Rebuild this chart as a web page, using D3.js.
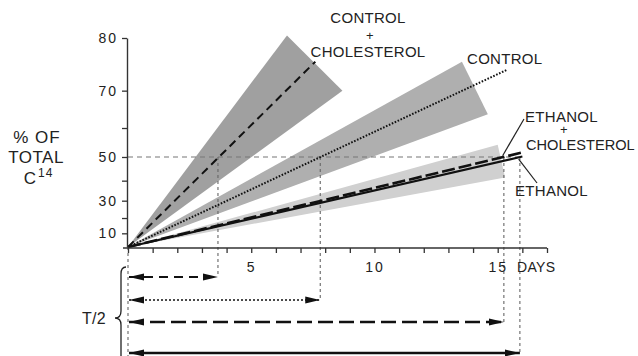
<!DOCTYPE html>
<html>
<head>
<meta charset="utf-8">
<script src="https://cdn.jsdelivr.net/npm/d3@7"></script>
<style>
  body { margin: 0; background: #fff; }
  svg { display: block; font-family: "Liberation Sans", Arial, sans-serif; }
</style>
</head>
<body>
<svg id="chart" width="638" height="356"></svg>
<script>
// DATA
const seriesNames = ["CONTROL + CHOLESTEROL", "CONTROL", "ETHANOL + CHOLESTEROL", "ETHANOL"];
const halfTimes = [3.65, 7.8, 15.25, 15.9];            // days to reach 50 %
const lineStarts = [[0, 0], [0, 0], [0, 0], [0, 0]];
const lineEnds = [[7.6, 76], [15.4, 74.5], [16.0, 51.7], [16.0, 50.2]];
const bandCCh = [[0, 0], [6.45, 80.4], [8.7, 70]];
const bandControl = [[0, 0], [13.55, 76], [14.6, 64]];
const bandEthanol = [[0, 0], [15.0, 54.5], [15.3, 41.5]];
const yTicks = [10, 20, 30, 40, 50, 60, 70, 80];
const yLabeled = [10, 30, 50, 70, 80];
const xTicks = [0, 1, 2, 3, 4, 5, 6, 7, 8, 9, 10, 11, 12, 13, 14, 15, 16, 17];
const xLabeled = [5, 10, 15];
const halfLevel = 50;

// styles
const lineStyles = [
  { dash: "8,5", width: 2 },
  { dash: "1.6,1.6", width: 2 },
  { dash: "13,4", width: 2.6 },
  { dash: null, width: 2.2 }
];
const bandFills = ["#a0a0a0", "#afafaf", "#d0d0d0"];
const arrowY = [277, 300, 322, 353];
const arrowStyles = [
  { dash: "9,6", width: 2 },
  { dash: "2,2", width: 1.6 },
  { dash: "15,6", width: 2.6 },
  { dash: null, width: 2.4 }
];

const svg = d3.select("#chart");

// scales: y is a first-order (log of remaining) scale
const x = d3.scaleLinear().domain([0, 17]).range([128, 547]);
const yLog = d3.scaleLog().domain([100, 20]).range([247, 38]);
const y = p => yLog(100 - p);

// arrow marker
svg.append("defs").append("marker")
  .attr("id", "head")
  .attr("markerUnits", "userSpaceOnUse")
  .attr("markerWidth", 15).attr("markerHeight", 8)
  .attr("refX", 15).attr("refY", 4)
  .attr("orient", "auto-start-reverse")
  .append("path")
  .attr("d", "M0,0.5 L15,4 L0,7.5 Z")
  .attr("fill", "#111");

// bands
const poly = d3.line().x(d => x(d[0])).y(d => y(d[1]));
[bandCCh, bandControl, bandEthanol].forEach((b, i) => {
  svg.append("path")
    .attr("d", poly(b) + "Z")
    .attr("fill", bandFills[i]);
});

// 50% reference line
svg.append("line")
  .attr("x1", x(0)).attr("x2", x(halfTimes[3]))
  .attr("y1", y(halfLevel)).attr("y2", y(halfLevel))
  .attr("stroke", "#777").attr("stroke-width", 1.1)
  .attr("stroke-dasharray", "5,4");

// drop lines from half-time points
halfTimes.forEach((t, i) => {
  svg.append("line")
    .attr("x1", x(t)).attr("x2", x(t))
    .attr("y1", y(halfLevel)).attr("y2", arrowY[i])
    .attr("stroke", "#666").attr("stroke-width", 1.1)
    .attr("stroke-dasharray", "3,3");
});
svg.append("line")
  .attr("x1", x(0)).attr("x2", x(0))
  .attr("y1", y(0)).attr("y2", 356)
  .attr("stroke", "#666").attr("stroke-width", 1.1)
  .attr("stroke-dasharray", "3,3");

// series lines
seriesNames.forEach((name, i) => {
  svg.append("line")
    .attr("x1", x(lineStarts[i][0])).attr("y1", y(lineStarts[i][1]))
    .attr("x2", x(lineEnds[i][0])).attr("y2", y(lineEnds[i][1]))
    .attr("stroke", "#111")
    .attr("stroke-width", lineStyles[i].width)
    .attr("stroke-dasharray", lineStyles[i].dash);
});

// axes
const yAxis = svg.append("g")
  .attr("transform", `translate(${x(0) - 1},0)`)
  .call(d3.axisLeft(yLog)
    .tickValues(yTicks.map(p => 100 - p))
    .tickFormat(v => yLabeled.includes(100 - v) ? String(100 - v) : "")
    .tickSize(5).tickPadding(4).tickSizeOuter(0));

const xAxis = svg.append("g")
  .attr("transform", `translate(0,${y(0) + 1})`)
  .call(d3.axisBottom(x)
    .tickValues(xTicks)
    .tickFormat(d => xLabeled.includes(d) ? String(d) : "")
    .tickSize(5).tickPadding(9).tickSizeOuter(0));

[yAxis, xAxis].forEach(g => {
  g.select(".domain").attr("stroke", "#333").attr("stroke-width", 1.4);
  g.selectAll(".tick line").attr("stroke", "#333").attr("stroke-width", 1.3);
  g.selectAll("text")
    .attr("fill", "#222")
    .attr("font-size", 14)
    .attr("letter-spacing", 2)
    .attr("font-family", "Liberation Sans, Arial, sans-serif");
});
xAxis.select(".domain").attr("d", `M${x(0) - 5},0H${x(17)}`);

// bottom half-time arrows
halfTimes.forEach((t, i) => {
  svg.append("line")
    .attr("x1", x(0) + 1).attr("x2", x(t))
    .attr("y1", arrowY[i]).attr("y2", arrowY[i])
    .attr("stroke", "#111")
    .attr("stroke-width", arrowStyles[i].width)
    .attr("stroke-dasharray", arrowStyles[i].dash)
    .attr("marker-start", "url(#head)")
    .attr("marker-end", "url(#head)");
});

// brace + T/2
svg.append("path")
  .attr("d", "M126,267 Q121,267 121,274 L121,311 Q121,318 115,318 Q121,318 121,325 L121,356")
  .attr("fill", "none").attr("stroke", "#222").attr("stroke-width", 1.3);

const txt = (s, xx, yy, opts = {}) => svg.append("text")
  .attr("x", xx).attr("y", yy)
  .attr("font-size", opts.size || 15)
  .attr("text-anchor", opts.anchor || "start")
  .attr("letter-spacing", opts.ls !== undefined ? opts.ls : 0.3)
  .attr("fill", "#222")
  .text(s);

txt("T/2", 82, 324, { size: 16 });

// y label
txt("% OF", 37, 143, { size: 17, anchor: "middle", ls: 1 });
txt("TOTAL", 36, 163, { size: 17, anchor: "middle", ls: 0.5 });
txt("C", 30, 184, { size: 17, anchor: "middle" });
svg.append("text").attr("x", 38).attr("y", 177)
  .attr("font-size", 12).attr("fill", "#222").attr("letter-spacing", 1).text("14");

// x label
txt("DAYS", 517, 272, { size: 14 });

// series labels
txt("CONTROL", 368, 23, { anchor: "middle" });
txt("+", 370, 40, { anchor: "middle", size: 13 });
txt("CHOLESTEROL", 368, 57, { anchor: "middle" });
txt("CONTROL", 467, 64);
txt("ETHANOL", 525, 122);
txt("+", 564, 134, { anchor: "middle", size: 13 });
txt("CHOLESTEROL", 526, 150, { size: 14.6, ls: 0 });
txt("ETHANOL", 515, 196);

// pointers from labels to lines
svg.append("line")
  .attr("x1", 524).attr("y1", 119)
  .attr("x2", x(15.2)).attr("y2", y(50.5))
  .attr("stroke", "#222").attr("stroke-width", 1.2);
svg.append("line")
  .attr("x1", 537).attr("y1", 183)
  .attr("x2", x(15.85)).attr("y2", y(49.2))
  .attr("stroke", "#222").attr("stroke-width", 1.2);
</script>
</body>
</html>
